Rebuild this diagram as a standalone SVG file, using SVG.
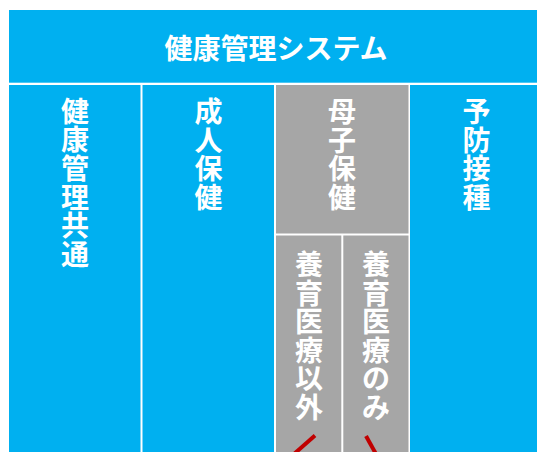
<svg xmlns="http://www.w3.org/2000/svg" width="537" height="452" viewBox="0 0 537 452">
<style>
.blue{fill:#00B0F0}
.gray{fill:#A6A6A6}
.t{font-family:"Noto Sans CJK JP","Noto Sans CJK SC",sans-serif;font-size:28px;font-weight:bold;fill:#FFFFFF;text-anchor:middle;dominant-baseline:central}
.red{stroke:#C00000;stroke-width:4;fill:none}
</style>
<rect width="537" height="452" fill="#FFFFFF"/>
<g id="title">
<rect class="blue" x="9" y="10" width="534" height="72.7"/>
<text class="t" x="276" y="46.5">健康管理システム</text>
</g>
<g id="common">
<rect class="blue" x="9" y="85" width="131.5" height="367"/>
<text class="t"><tspan x="75" y="109.5">健</tspan><tspan x="75" y="138.2">康</tspan><tspan x="75" y="166.9">管</tspan><tspan x="75" y="195.6">理</tspan><tspan x="75" y="224.3">共</tspan><tspan x="75" y="253">通</tspan></text>
</g>
<g id="adult">
<rect class="blue" x="142.5" y="85" width="131.5" height="367"/>
<text class="t"><tspan x="208.5" y="110">成</tspan><tspan x="208.5" y="138.7">人</tspan><tspan x="208.5" y="167.4">保</tspan><tspan x="208.5" y="196.1">健</tspan></text>
</g>
<g id="maternal">
<rect class="gray" x="276" y="85" width="132.5" height="148.5"/>
<text class="t"><tspan x="342" y="110">母</tspan><tspan x="342" y="138.7">子</tspan><tspan x="342" y="167.4">保</tspan><tspan x="342" y="196.1">健</tspan></text>
</g>
<g id="ikusei-other">
<rect class="gray" x="276" y="235.5" width="65.3" height="217"/>
<text class="t"><tspan x="309" y="263">養</tspan><tspan x="309" y="291.5">育</tspan><tspan x="309" y="320">医</tspan><tspan x="309" y="348.5">療</tspan><tspan x="309" y="377">以</tspan><tspan x="309" y="405.5">外</tspan></text>
</g>
<g id="ikusei-only">
<rect class="gray" x="343.3" y="235.5" width="65.2" height="217"/>
<text class="t"><tspan x="376" y="263">養</tspan><tspan x="376" y="291.5">育</tspan><tspan x="376" y="320">医</tspan><tspan x="376" y="348.5">療</tspan><tspan x="376" y="377">の</tspan><tspan x="376" y="405.5">み</tspan></text>
</g>
<g id="vaccination">
<rect class="blue" x="410" y="85" width="133" height="367"/>
<text class="t"><tspan x="476.5" y="110">予</tspan><tspan x="476.5" y="138.7">防</tspan><tspan x="476.5" y="167.4">接</tspan><tspan x="476.5" y="196.1">種</tspan></text>
</g>
<g id="connectors">
<line class="red" x1="294" y1="454" x2="315" y2="435.5"/>
<line class="red" x1="366" y1="436" x2="376" y2="454"/>
</g>
</svg>
